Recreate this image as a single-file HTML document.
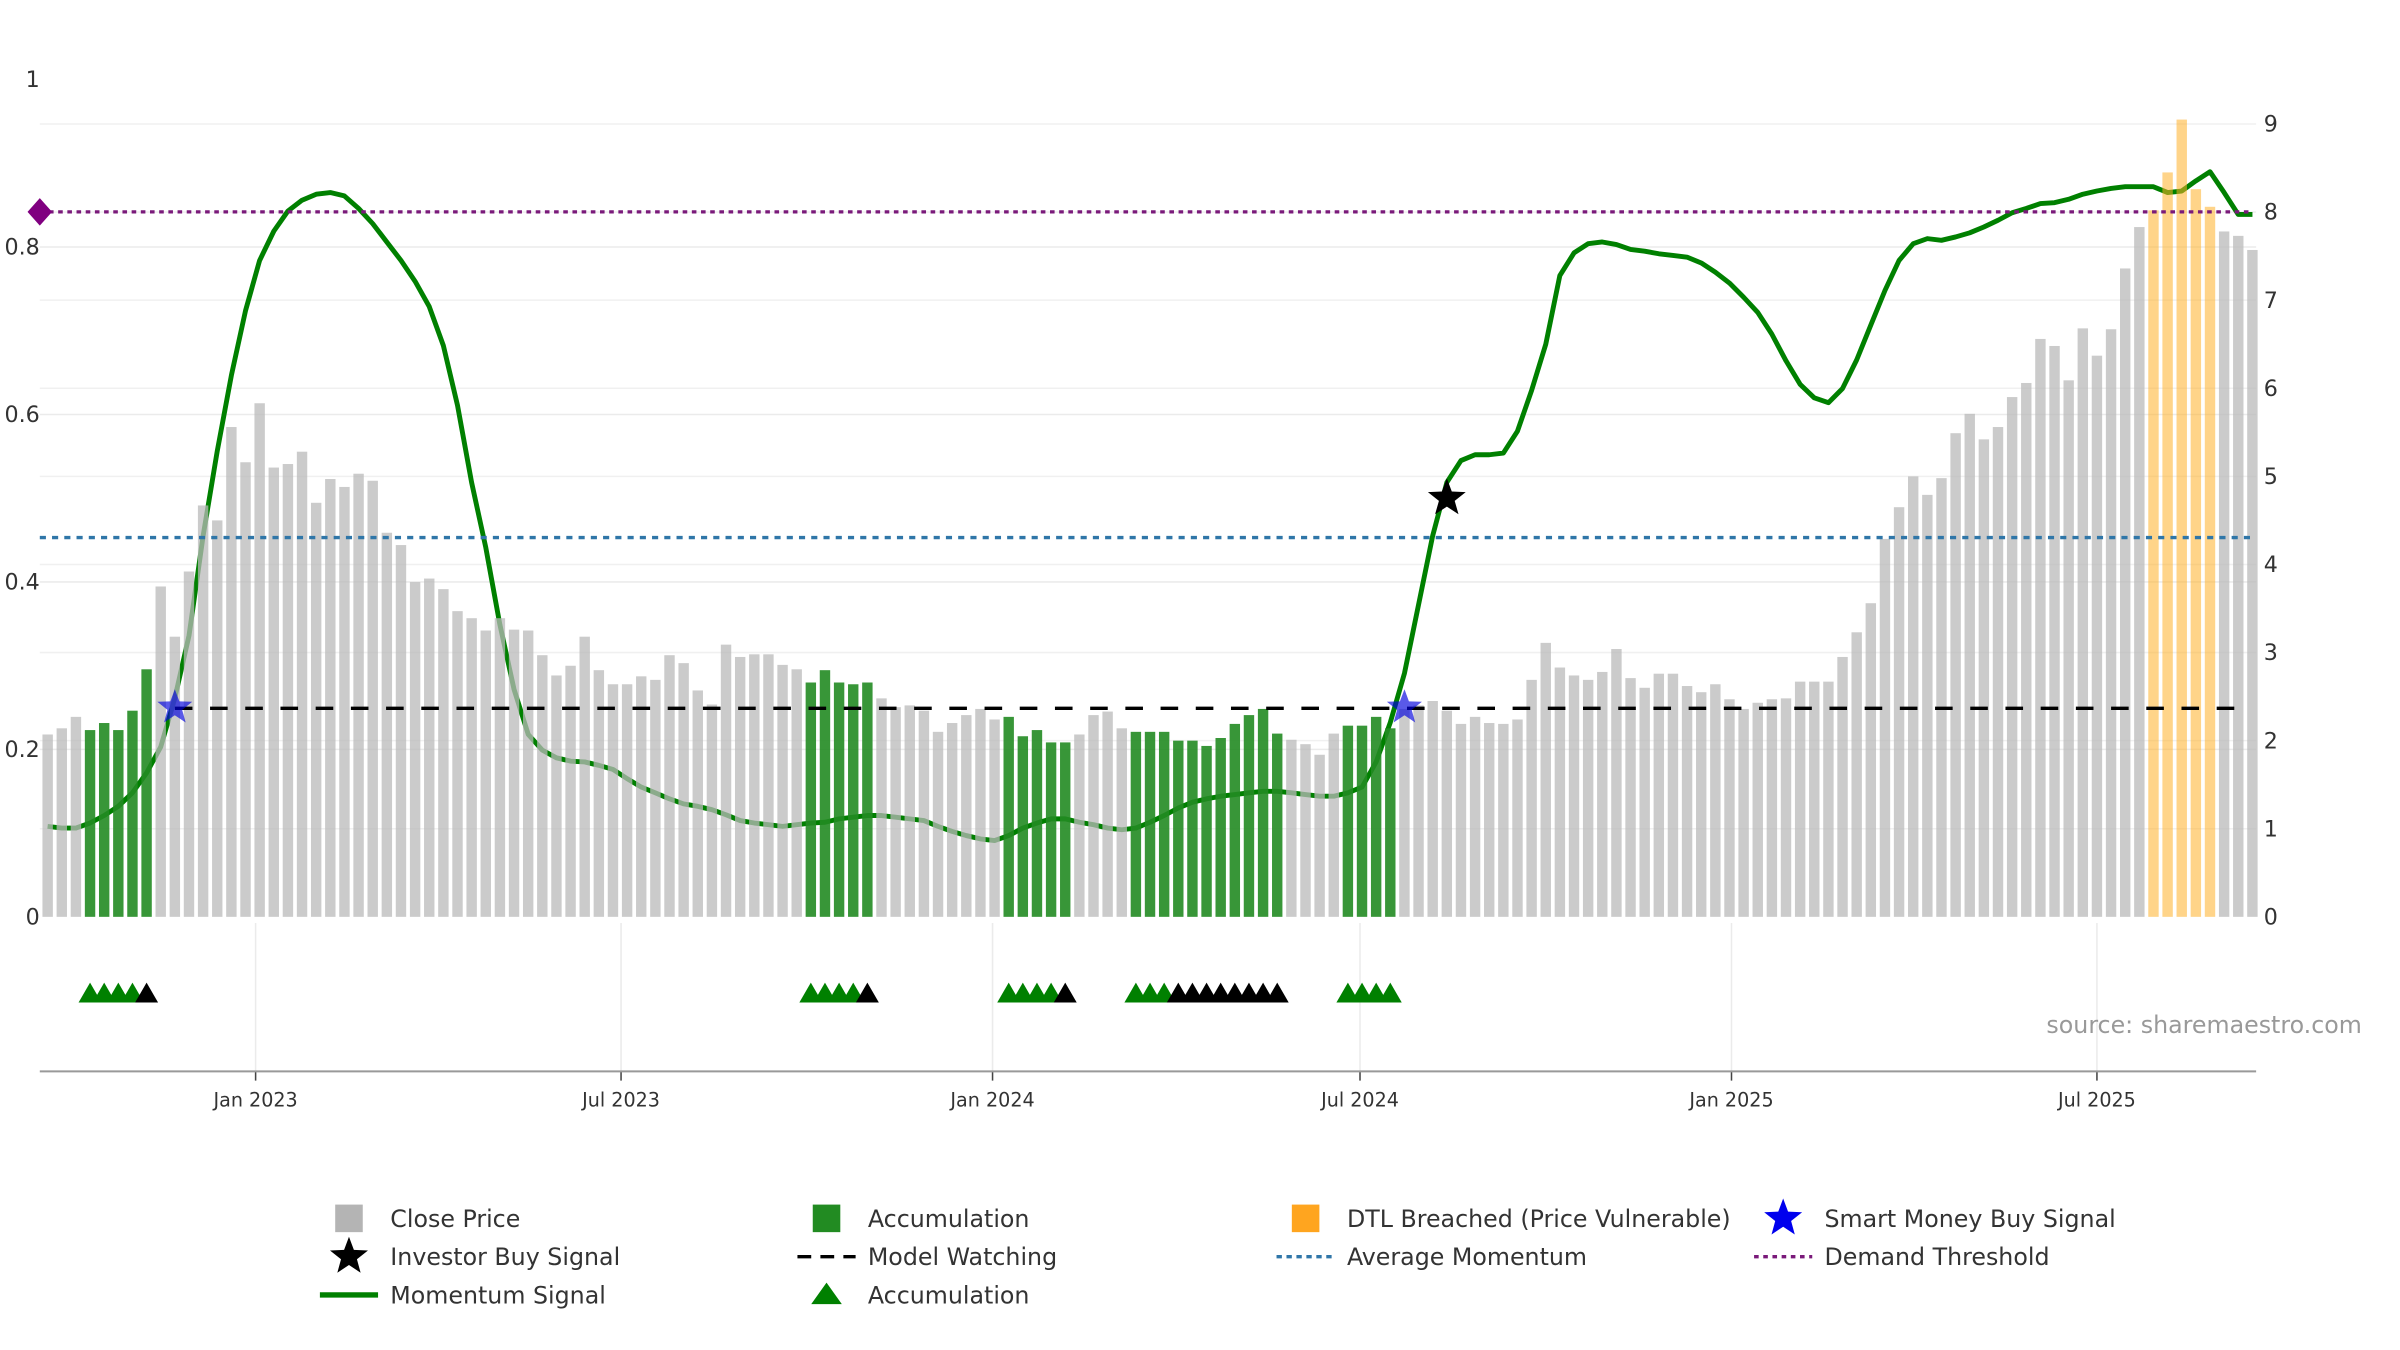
<!DOCTYPE html>
<html><head><meta charset="utf-8"><style>
html,body{margin:0;padding:0;background:#fff;}
svg{display:block;font-family:"DejaVu Sans","Liberation Sans",sans-serif;}
</style></head><body>
<svg id="chart" width="2400" height="1350" viewBox="0 0 1568 882" preserveAspectRatio="none" xmlns="http://www.w3.org/2000/svg">
<g id="grid"></g>
<g id="momentumLayer"></g>
<g id="bars"></g>
<g id="lines"></g>
<g id="markers"></g>
<g id="axes"></g>
<text x="1337" y="675" font-size="15.5" fill="#999">source: sharemaestro.com</text>
<g id="legend"></g>
</svg>
<script>
const prices = [2.07,2.14,2.27,2.12,2.2,2.12,2.34,2.81,3.75,3.18,3.92,4.67,4.5,5.56,5.16,5.83,5.1,5.14,5.28,4.7,4.97,4.88,5.03,4.95,4.36,4.22,3.8,3.84,3.72,3.47,3.39,3.25,3.39,3.26,3.25,2.97,2.74,2.85,3.18,2.8,2.64,2.64,2.73,2.69,2.97,2.88,2.57,2.41,3.09,2.95,2.98,2.98,2.86,2.81,2.66,2.8,2.66,2.64,2.66,2.48,2.38,2.4,2.34,2.1,2.2,2.29,2.36,2.24,2.27,2.05,2.12,1.98,1.98,2.07,2.29,2.33,2.14,2.1,2.1,2.1,2.0,2.0,1.94,2.03,2.19,2.29,2.36,2.08,2.01,1.96,1.84,2.08,2.17,2.17,2.27,2.14,2.36,2.4,2.45,2.34,2.19,2.27,2.2,2.19,2.24,2.69,3.11,2.83,2.74,2.69,2.78,3.04,2.71,2.6,2.76,2.76,2.62,2.55,2.64,2.47,2.36,2.43,2.47,2.48,2.67,2.67,2.67,2.95,3.23,3.56,4.29,4.65,5.0,4.79,4.98,5.49,5.71,5.42,5.56,5.9,6.06,6.56,6.48,6.09,6.68,6.37,6.67,7.36,7.83,8.02,8.45,9.05,8.26,8.06,7.78,7.73,7.57];
const momentum = [.108,.106,.106,.112,.121,.132,.148,.172,.203,.261,.336,.455,.556,.647,.724,.784,.819,.843,.856,.863,.865,.861,.846,.828,.806,.784,.759,.729,.682,.611,.519,.441,.349,.272,.218,.199,.190,.186,.185,.181,.176,.165,.155,.148,.141,.135,.132,.128,.122,.115,.112,.110,.108,.110,.112,.113,.117,.119,.121,.121,.119,.117,.115,.108,.102,.097,.093,.091,.097,.106,.112,.117,.117,.113,.110,.106,.104,.106,.113,.121,.130,.137,.141,.144,.146,.148,.150,.150,.148,.146,.144,.144,.148,.155,.185,.232,.291,.373,.455,.519,.545,.552,.552,.554,.580,.629,.684,.766,.793,.804,.806,.803,.797,.795,.792,.790,.788,.781,.770,.757,.740,.722,.696,.664,.636,.620,.614,.631,.665,.707,.748,.784,.804,.810,.808,.812,.817,.824,.832,.841,.846,.852,.853,.857,.863,.867,.870,.872,.872,.872,.865,.867,.879,.890,.865,.839,.839];
const accumIdx = [3,4,5,6,7,54,55,56,57,58,68,69,70,71,72,77,78,79,80,81,82,83,84,85,86,87,92,93,94,95];
const dtlIdx = [149,150,151,152,153];
const triGreenIdx = [3,4,5,6,54,55,56,57,68,69,70,71,77,78,79,92,93,94,95];
const triBlackIdx = [7,58,72,80,81,82,83,84,85,86,87];
const smartMoneyIdx = [9,96];
const smartMoneyVal = [0.25,0.25];
const investorIdx = [99];
const investorVal = [0.5];
const avgMomentum = 0.453;
const demandThreshold = 0.842;
const watchLevel = 0.249;
const watchStartIdx = 9;
const leftTicks = [0,0.2,0.4,0.6,0.8,1];
const leftTickLabels = ["0","0.2","0.4","0.6","0.8","1"];
const rightTicks = [0,1,2,3,4,5,6,7,8,9];
const xTickDates = ["2023-01-01","2023-07-01","2024-01-01","2024-07-01","2025-01-01","2025-07-01"];
const xTickLabels = ["Jan 2023","Jul 2023","Jan 2024","Jul 2024","Jan 2025","Jul 2025"];
const startDate = "2022-09-20";

const NS="http://www.w3.org/2000/svg";
function el(tag,attrs,parent){const e=document.createElementNS(NS,tag);for(const k in attrs)e.setAttribute(k,attrs[k]);parent.appendChild(e);return e;}
const t0=Date.parse("2023-01-01"), X0=167, PXDAY=(1370-167)/((Date.parse("2025-07-01")-t0)/864e5);
function xDate(s){return X0+(Date.parse(s)-t0)/864e5*PXDAY;}
function xIdx(i){return xDate(startDate)+i*7*PXDAY;}
const Y0=599;
function yL(v){return Y0-v*547;}
function yR(v){return Y0-v*(518/9);}
const grid=document.getElementById('grid'),bars=document.getElementById('bars'),lines=document.getElementById('lines'),markers=document.getElementById('markers'),axes=document.getElementById('axes'),legend=document.getElementById('legend'),mom=document.getElementById('momentumLayer');
const PL=26,PR=1474;
leftTicks.forEach((v,k)=>{
 if(v>0&&v<1){const g=el('line',{x1:PL,x2:PR,y1:yL(v),y2:yL(v),stroke:'#ebebeb','stroke-width':1},grid);
 }
 const t=el('text',{x:26,y:yL(v)+5,'font-size':14.5,fill:'#333','text-anchor':'end'},axes);t.textContent=leftTickLabels[k];
 
});
rightTicks.forEach(v=>{
 if(v>0){const g=el('line',{x1:PL,x2:PR,y1:yR(v),y2:yR(v),stroke:'#f0f0f0','stroke-width':1},grid);
 }
 const t=el('text',{x:1479,y:yR(v)+5,'font-size':14.5,fill:'#333'},axes);t.textContent=v;
 
});
xTickDates.forEach((d,k)=>{
 const x=xDate(d);
 const g=el('line',{x1:x,x2:x,y1:603,y2:700,stroke:'#ebebeb','stroke-width':1},grid);
 
 const tk=el('line',{x1:x,x2:x,y1:700,y2:706,stroke:'#444','stroke-width':1},axes);
 
 const t=el('text',{x:x,y:723,'font-size':12.5,fill:'#333','text-anchor':'middle'},axes);t.textContent=xTickLabels[k];
 
});
const ax=el('line',{x1:PL,x2:PR,y1:700,y2:700,stroke:'#999','stroke-width':1.3},axes);

const pts=momentum.map((v,i)=>xIdx(i).toFixed(1)+','+yL(v).toFixed(1)).join(' ');
const ml=el('polyline',{points:pts,fill:'none',stroke:'#008000','stroke-width':3.2,'stroke-linejoin':'round'},mom);

prices.forEach((v,i)=>{
 let fill='rgba(185,185,185,0.75)';
 if(accumIdx.includes(i))fill='rgba(34,139,34,0.9)';
 if(dtlIdx.includes(i))fill='rgba(255,176,40,0.55)';
 const b=el('rect',{x:xIdx(i)-3.4,y:yR(v),width:6.8,height:Y0-yR(v),fill:fill},bars);
 
});
const wl=el('line',{x1:xIdx(watchStartIdx),x2:PR-4,y1:yL(watchLevel),y2:yL(watchLevel),stroke:'#000','stroke-width':2.2,'stroke-dasharray':'11.5 11.5'},lines);

const al=el('line',{x1:PL,x2:PR-4,y1:yL(avgMomentum),y2:yL(avgMomentum),stroke:'#2f76a8','stroke-width':2.2,'stroke-dasharray':'4 4'},lines);

const dl=el('line',{x1:PL,x2:PR-4,y1:yL(demandThreshold),y2:yL(demandThreshold),stroke:'#7a1a7a','stroke-width':2.2,'stroke-dasharray':'3 3'},lines);

const yd=yL(demandThreshold);
const dm=el('polygon',{points:`${PL},${yd-9} ${PL+8},${yd} ${PL},${yd+9} ${PL-8},${yd}`,fill:'#800080'},lines);

function star(cx,cy,r,fill,parent,op){const p=[];for(let k=0;k<10;k++){const a=-Math.PI/2+k*Math.PI/5;const rr=k%2?r*0.42:r;p.push((cx+rr*Math.cos(a)).toFixed(1)+','+(cy+rr*Math.sin(a)).toFixed(1));}
 return el('polygon',{points:p.join(' '),fill:fill,'fill-opacity':op},parent);}
smartMoneyIdx.forEach((i,k)=>{const s=star(xIdx(i),yL(smartMoneyVal[k]),12,'#0000dd',markers,0.65);
 });
investorIdx.forEach((i,k)=>{const s=star(xIdx(i),yL(investorVal[k]),13,'#000',markers,1);
 });
function tri(cx,cy,fill){return el('polygon',{points:`${cx-7.5},${cy+6} ${cx+7.5},${cy+6} ${cx},${cy-7}`,fill:fill},markers);}
triGreenIdx.forEach(i=>{const t=tri(xIdx(i),649,'#008000');});
triBlackIdx.forEach(i=>{const t=tri(xIdx(i),649,'#000');});
const lg=[
 [228,796,'sq','#b4b4b4','Close Price'],[540,796,'sq','#228b22','Accumulation'],[853,796,'sq','#ffa51f','DTL Breached (Price Vulnerable)'],[1165,796,'bstar','#0000ee','Smart Money Buy Signal'],
 [228,821,'kstar','#000','Investor Buy Signal'],[540,821,'dash','#000','Model Watching'],[853,821,'bdot','#2f76a8','Average Momentum'],[1165,821,'pdot','#7a1a7a','Demand Threshold'],
 [228,846,'line','#008000','Momentum Signal'],[540,846,'tri','#008000','Accumulation']];
lg.forEach(([x,y,k,c,label])=>{
 const g=el('g',{},legend);
 
 if(k==='sq')el('rect',{x:x-9,y:y-9,width:18,height:18,fill:c},g);
 else if(k==='bstar')star(x,y,13,c,g,1);
 else if(k==='kstar')star(x,y,13,c,g,1);
 else if(k==='dash')el('line',{x1:x-19,x2:x+19,y1:y,y2:y,stroke:c,'stroke-width':2.2,'stroke-dasharray':'9 6'},g);
 else if(k==='bdot')el('line',{x1:x-19,x2:x+19,y1:y,y2:y,stroke:c,'stroke-width':2.2,'stroke-dasharray':'3.5 3'},g);
 else if(k==='pdot')el('line',{x1:x-19,x2:x+19,y1:y,y2:y,stroke:c,'stroke-width':2.2,'stroke-dasharray':'3 3'},g);
 else if(k==='line')el('line',{x1:x-19,x2:x+19,y1:y,y2:y,stroke:c,'stroke-width':3.5},g);
 else if(k==='tri')el('polygon',{points:`${x-10},${y+6} ${x+10},${y+6} ${x},${y-8}`,fill:c},g);
 const t=el('text',{x:x+27,y:y+5.5,'font-size':15.5,fill:'#333'},g);t.textContent=label;
});
</script>
</body></html>
